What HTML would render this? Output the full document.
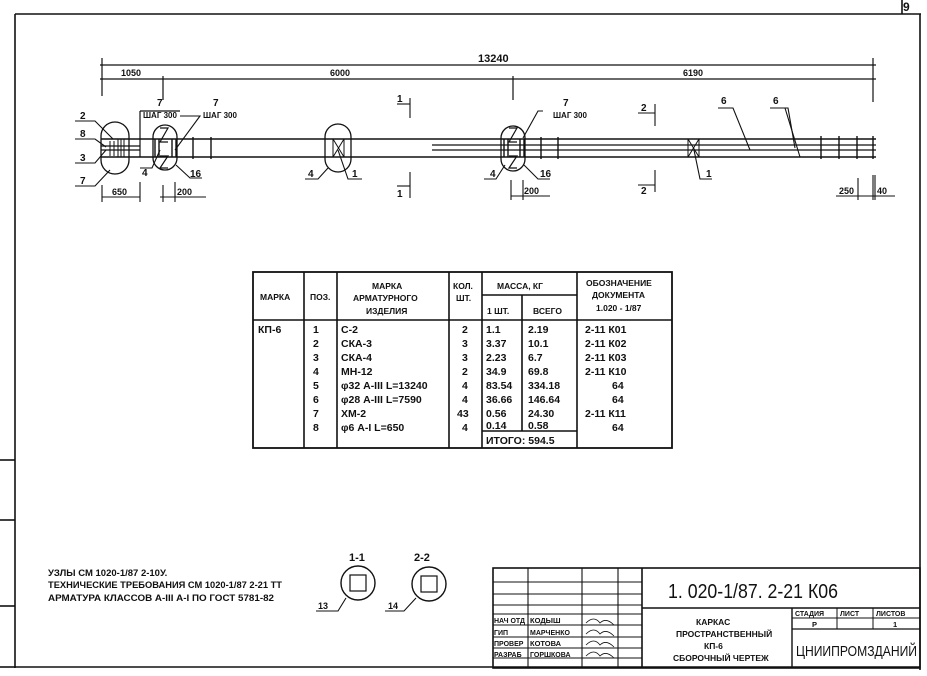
<!DOCTYPE html>
<html><head><meta charset="utf-8"><style>
html,body{margin:0;padding:0;background:#fff;}
svg{display:block;}
text{font-family:"Liberation Sans",sans-serif;font-weight:bold;fill:#111;}
text.n{font-weight:normal;}
</style></head><body>
<svg width="927" height="676" viewBox="0 0 927 676" xmlns="http://www.w3.org/2000/svg">
<g stroke="#111" fill="none" stroke-width="1.6">
<line x1="15" y1="14" x2="921" y2="14"/>
<line x1="920" y1="14" x2="920" y2="670"/>
<line x1="15" y1="14" x2="15" y2="668"/>
<line x1="15" y1="667" x2="920" y2="667"/>
<line x1="902" y1="0" x2="902" y2="14"/>
<line x1="0" y1="460" x2="15" y2="460"/>
<line x1="0" y1="520" x2="15" y2="520"/>
<line x1="0" y1="606" x2="15" y2="606"/>
<line x1="0" y1="667" x2="15" y2="667"/>

<line x1="100" y1="65" x2="876" y2="65" stroke-width="1.2"/>
<line x1="100" y1="79" x2="876" y2="79" stroke-width="1.2"/>
<line x1="102" y1="58" x2="102" y2="96" stroke-width="1.2"/>
<line x1="163" y1="76" x2="163" y2="100" stroke-width="1.2"/>
<line x1="513" y1="76" x2="513" y2="100" stroke-width="1.2"/>
<line x1="873" y1="58" x2="873" y2="102" stroke-width="1.2"/>

<line x1="101" y1="139" x2="876" y2="139"/>
<line x1="101" y1="157" x2="876" y2="157"/>
<line x1="101" y1="146" x2="140" y2="146" stroke-width="1.2"/>
<line x1="101" y1="150" x2="140" y2="150" stroke-width="1.2"/>
<line x1="432" y1="145" x2="876" y2="145" stroke-width="1.2"/>
<line x1="432" y1="150" x2="876" y2="150" stroke-width="1.2"/>
<line x1="140" y1="111" x2="140" y2="157" stroke-width="1.2"/>
<line x1="140" y1="111" x2="180" y2="111" stroke-width="1.2"/>
<line x1="110" y1="141" x2="110" y2="156" stroke-width="1"/>
<line x1="114" y1="141" x2="114" y2="156" stroke-width="1"/>
<line x1="118" y1="139" x2="118" y2="157" stroke-width="1"/>
<line x1="121" y1="139" x2="121" y2="157" stroke-width="1"/>
<line x1="124" y1="139" x2="124" y2="157" stroke-width="1"/>
<g stroke-width="1.4">
<line x1="155" y1="139" x2="155" y2="157"/><line x1="159" y1="139" x2="159" y2="157"/>
<line x1="172" y1="139" x2="172" y2="157"/><line x1="176" y1="139" x2="176" y2="157"/>
<line x1="193" y1="137" x2="193" y2="159"/><line x1="211" y1="137" x2="211" y2="159"/>
<line x1="504" y1="139" x2="504" y2="157"/><line x1="508" y1="139" x2="508" y2="157"/>
<line x1="520" y1="139" x2="520" y2="157"/><line x1="524" y1="139" x2="524" y2="157"/>
<line x1="541" y1="137" x2="541" y2="159"/><line x1="558" y1="137" x2="558" y2="159"/>
<line x1="821" y1="136" x2="821" y2="159"/><line x1="839" y1="136" x2="839" y2="159"/>
<line x1="857" y1="136" x2="857" y2="159"/><line x1="873" y1="136" x2="873" y2="159"/>
</g>
<rect x="333" y="139" width="11" height="18" stroke-width="1"/>
<line x1="333" y1="139" x2="344" y2="157" stroke-width="1"/><line x1="344" y1="139" x2="333" y2="157" stroke-width="1"/>
<line x1="688" y1="139" x2="699" y2="157" stroke-width="1"/><line x1="699" y1="139" x2="688" y2="157" stroke-width="1"/>
<line x1="688" y1="139" x2="688" y2="157" stroke-width="1"/><line x1="699" y1="139" x2="699" y2="157" stroke-width="1"/>
<polyline points="160,128 168,128 160,142 168,142" stroke-width="1.2"/>
<polyline points="160,156 168,156 160,168 168,168" stroke-width="1.2"/>
<polyline points="509,128 517,128 509,142 517,142" stroke-width="1.2"/>
<polyline points="509,156 517,156 509,168 517,168" stroke-width="1.2"/>
<rect x="101" y="122" width="28" height="52" rx="14" ry="14" stroke-width="1.3"/>
<rect x="153" y="125" width="24" height="45" rx="12" ry="12" stroke-width="1.3"/>
<rect x="325" y="124" width="26" height="48" rx="13" ry="13" stroke-width="1.3"/>
<rect x="501" y="126" width="24" height="45" rx="12" ry="12" stroke-width="1.3"/>

<g stroke-width="1.1">
<polyline points="75,121 95,121 113,139"/>
<polyline points="75,139 95,139 106,147"/>
<polyline points="75,163 95,163 106,150"/>
<polyline points="75,186 95,186 110,170"/>
<polyline points="180,116 200,116 175,150"/>
<polyline points="140,168 152,168 160,150"/>
<polyline points="202,178 190,178 176,165"/>
<polyline points="305,179 318,179 328,168"/>
<polyline points="362,179 348,179 338,150"/>
<polyline points="543,111 538,111 523,138"/>
<polyline points="484,179 496,179 505,165"/>
<polyline points="550,179 538,179 524,165"/>
<polyline points="718,108 733,108 750,150"/>
<polyline points="770,108 785,108 800,157"/>
<polyline points="775,108 788,108 795,148"/>
<polyline points="712,179 700,179 694,150"/>
<line x1="397" y1="104" x2="410" y2="104"/><line x1="410" y1="98" x2="410" y2="118"/>
<line x1="397" y1="186" x2="410" y2="186"/><line x1="410" y1="172" x2="410" y2="198"/>
<line x1="638" y1="113" x2="655" y2="113"/><line x1="655" y1="104" x2="655" y2="126"/>
<line x1="638" y1="185" x2="655" y2="185"/><line x1="655" y1="170" x2="655" y2="192"/>
<line x1="102" y1="185" x2="102" y2="202"/><line x1="140" y1="182" x2="140" y2="202"/>
<line x1="102" y1="197" x2="140" y2="197"/>
<line x1="163" y1="185" x2="163" y2="202"/><line x1="175" y1="182" x2="175" y2="202"/>
<line x1="160" y1="197" x2="206" y2="197"/>
<line x1="511" y1="180" x2="511" y2="200"/><line x1="523" y1="180" x2="523" y2="200"/>
<line x1="511" y1="196" x2="550" y2="196"/>
<line x1="858" y1="178" x2="858" y2="200"/><line x1="873" y1="175" x2="873" y2="200"/><line x1="875" y1="175" x2="875" y2="200"/>
<line x1="836" y1="196" x2="895" y2="196"/>
</g>

<rect x="253" y="272" width="419" height="176" stroke-width="1.8"/>
<line x1="253" y1="320" x2="672" y2="320"/>
<line x1="304" y1="272" x2="304" y2="448"/>
<line x1="337" y1="272" x2="337" y2="448"/>
<line x1="449" y1="272" x2="449" y2="448"/>
<line x1="482" y1="272" x2="482" y2="448"/>
<line x1="522" y1="295" x2="522" y2="431"/>
<line x1="577" y1="272" x2="577" y2="448"/>
<line x1="482" y1="295" x2="577" y2="295"/>
<line x1="482" y1="431" x2="577" y2="431"/>

<circle cx="358" cy="583" r="17" stroke-width="1.4"/>
<rect x="350" y="575" width="16" height="16" stroke-width="1.2"/>
<polyline points="316,611 338,611 346,598" stroke-width="1.1"/>
<circle cx="429" cy="584" r="17" stroke-width="1.4"/>
<rect x="421" y="576" width="16" height="16" stroke-width="1.2"/>
<polyline points="385,611 404,611 416,598" stroke-width="1.1"/>

<rect x="493" y="568" width="427" height="100" stroke-width="1.6"/>
<line x1="528" y1="568" x2="528" y2="668" stroke-width="1.1"/>
<line x1="582" y1="568" x2="582" y2="668" stroke-width="1.1"/>
<line x1="618" y1="568" x2="618" y2="668" stroke-width="1.1"/>
<line x1="642" y1="568" x2="642" y2="668" stroke-width="1.6"/>
<g stroke-width="1">
<line x1="493" y1="582" x2="642" y2="582"/>
<line x1="493" y1="594" x2="642" y2="594"/>
<line x1="493" y1="605" x2="642" y2="605"/>
<line x1="493" y1="614" x2="642" y2="614"/>
<line x1="493" y1="625" x2="642" y2="625"/>
<line x1="493" y1="637" x2="642" y2="637"/>
<line x1="493" y1="648" x2="642" y2="648"/>
<line x1="493" y1="658" x2="642" y2="658"/>
</g>
<line x1="642" y1="608" x2="920" y2="608" stroke-width="1.4"/>
<line x1="792" y1="608" x2="792" y2="668" stroke-width="1.4"/>
<line x1="792" y1="618" x2="920" y2="618" stroke-width="1"/>
<line x1="792" y1="629" x2="920" y2="629" stroke-width="1.2"/>
<line x1="837" y1="608" x2="837" y2="629" stroke-width="1"/>
<line x1="873" y1="608" x2="873" y2="629" stroke-width="1"/>
<path d="M586,623 q8,-8 14,0 q6,-6 14,2" stroke-width="0.8"/>
<path d="M586,634 q8,-8 14,0 q6,-6 14,2" stroke-width="0.8"/>
<path d="M586,645 q8,-8 14,0 q6,-6 14,2" stroke-width="0.8"/>
<path d="M586,656 q8,-8 14,0 q6,-6 14,2" stroke-width="0.8"/>
</g>

<g font-size="10">
<text x="903" y="11" font-size="12">9</text>
<text x="478" y="62" font-size="11">13240</text>
<text x="121" y="76" font-size="9">1050</text>
<text x="330" y="76" font-size="9">6000</text>
<text x="683" y="76" font-size="9">6190</text>
<text x="157" y="106">7</text>
<text x="143" y="118" font-size="8">ШАГ 300</text>
<text x="213" y="106">7</text>
<text x="203" y="118" font-size="8">ШАГ 300</text>
<text x="563" y="106">7</text>
<text x="553" y="118" font-size="8">ШАГ 300</text>
<text x="80" y="119">2</text>
<text x="80" y="137">8</text>
<text x="80" y="161">3</text>
<text x="80" y="184">7</text>
<text x="142" y="176">4</text>
<text x="190" y="177">16</text>
<text x="308" y="177">4</text>
<text x="352" y="177">1</text>
<text x="490" y="177">4</text>
<text x="540" y="177">16</text>
<text x="706" y="177">1</text>
<text x="721" y="104">6</text>
<text x="773" y="104">6</text>
<text x="397" y="102">1</text>
<text x="397" y="197">1</text>
<text x="641" y="111">2</text>
<text x="641" y="194">2</text>
<text x="112" y="195" font-size="9">650</text>
<text x="177" y="195" font-size="9">200</text>
<text x="524" y="194" font-size="9">200</text>
<text x="839" y="194" font-size="9">250</text>
<text x="877" y="194" font-size="9">40</text>
</g>

<g font-size="8.5">
<text x="260" y="300">МАРКА</text>
<text x="310" y="300">ПОЗ.</text>
<text x="372" y="289">МАРКА</text>
<text x="353" y="301">АРМАТУРНОГО</text>
<text x="366" y="314">ИЗДЕЛИЯ</text>
<text x="453" y="289">КОЛ.</text>
<text x="456" y="301">ШТ.</text>
<text x="497" y="289">МАССА, КГ</text>
<text x="487" y="314">1 ШТ.</text>
<text x="533" y="314">ВСЕГО</text>
<text x="586" y="286">ОБОЗНАЧЕНИЕ</text>
<text x="592" y="298">ДОКУМЕНТА</text>
<text x="596" y="311">1.020 - 1/87</text>
</g>
<g font-size="10.5">
<text x="258" y="333">КП-6</text>
<text x="313" y="333">1</text><text x="313" y="347">2</text><text x="313" y="361">3</text><text x="313" y="375">4</text><text x="313" y="389">5</text><text x="313" y="403">6</text><text x="313" y="417">7</text><text x="313" y="431">8</text>
<text x="341" y="333">С-2</text>
<text x="341" y="347">СКА-3</text>
<text x="341" y="361">СКА-4</text>
<text x="341" y="375">МН-12</text>
<text x="341" y="389">φ32 А-III L=13240</text>
<text x="341" y="403">φ28 А-III L=7590</text>
<text x="341" y="417">ХМ-2</text>
<text x="341" y="431">φ6 А-I L=650</text>
<text x="462" y="333">2</text><text x="462" y="347">3</text><text x="462" y="361">3</text><text x="462" y="375">2</text><text x="462" y="389">4</text><text x="462" y="403">4</text><text x="457" y="417">43</text><text x="462" y="431">4</text>
<text x="486" y="333">1.1</text><text x="486" y="347">3.37</text><text x="486" y="361">2.23</text><text x="486" y="375">34.9</text><text x="486" y="389">83.54</text><text x="486" y="403">36.66</text><text x="486" y="417">0.56</text><text x="486" y="429">0.14</text>
<text x="528" y="333">2.19</text><text x="528" y="347">10.1</text><text x="528" y="361">6.7</text><text x="528" y="375">69.8</text><text x="528" y="389">334.18</text><text x="528" y="403">146.64</text><text x="528" y="417">24.30</text><text x="528" y="429">0.58</text>
<text x="486" y="444">ИТОГО: 594.5</text>
<text x="585" y="333">2-11 К01</text>
<text x="585" y="347">2-11 К02</text>
<text x="585" y="361">2-11 К03</text>
<text x="585" y="375">2-11 К10</text>
<text x="612" y="389">64</text>
<text x="612" y="403">64</text>
<text x="585" y="417">2-11 К11</text>
<text x="612" y="431">64</text>
</g>

<g font-size="9.5">
<text x="48" y="576">УЗЛЫ СМ 1020-1/87 2-10У.</text>
<text x="48" y="588" textLength="234" lengthAdjust="spacingAndGlyphs">ТЕХНИЧЕСКИЕ ТРЕБОВАНИЯ СМ 1020-1/87 2-21 ТТ</text>
<text x="48" y="601" textLength="226" lengthAdjust="spacingAndGlyphs">АРМАТУРА КЛАССОВ А-III А-I ПО ГОСТ 5781-82</text>
<text x="349" y="561" font-size="11">1-1</text>
<text x="414" y="561" font-size="11">2-2</text>
<text x="318" y="609" font-size="9">13</text>
<text x="388" y="609" font-size="9">14</text>
</g>

<text class="n" x="668" y="598" font-size="20" textLength="170" lengthAdjust="spacingAndGlyphs">1. 020-1/87. 2-21  К06</text>
<g font-size="7.5">
<text x="795" y="616" font-size="7">СТАДИЯ</text><text x="840" y="616" font-size="7">ЛИСТ</text><text x="876" y="616" font-size="7">ЛИСТОВ</text>
<text x="812" y="627">Р</text><text x="893" y="627">1</text>
<text x="494" y="623" font-size="7">НАЧ ОТД</text><text x="530" y="623">КОДЫШ</text>
<text x="494" y="635" font-size="7">ГИП</text><text x="530" y="635" font-size="7">МАРЧЕНКО</text>
<text x="494" y="646" font-size="7">ПРОВЕР</text><text x="530" y="646">КОТОВА</text>
<text x="494" y="657" font-size="7">РАЗРАБ</text><text x="530" y="657" font-size="7">ГОРШКОВА</text>
<text x="696" y="625" font-size="8.5">КАРКАС</text>
<text x="676" y="637" font-size="8.5">ПРОСТРАНСТВЕННЫЙ</text>
<text x="704" y="649" font-size="8.5">КП-6</text>
<text x="673" y="661" font-size="8.5">СБОРОЧНЫЙ ЧЕРТЕЖ</text>
</g>
<text class="n" x="796" y="656" font-size="15" textLength="121" lengthAdjust="spacingAndGlyphs">ЦНИИПРОМЗДАНИЙ</text>
</svg>
</body></html>
